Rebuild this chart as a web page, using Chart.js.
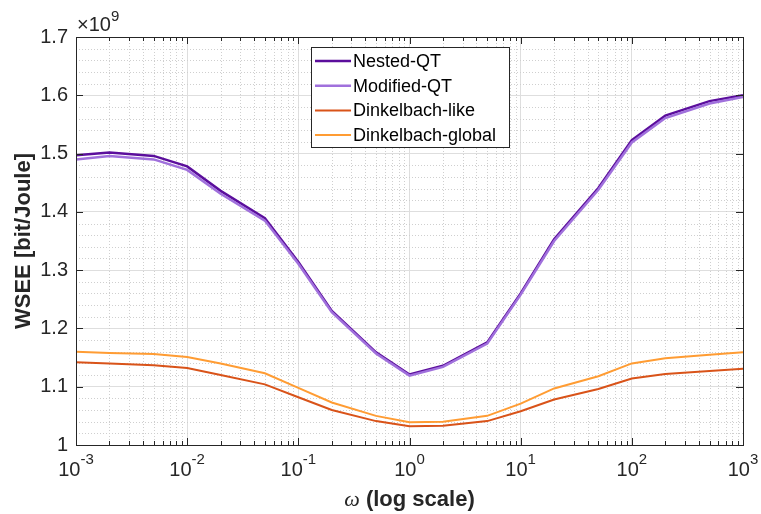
<!DOCTYPE html>
<html lang="en">
<head>
  <meta charset="UTF-8">
  <title>WSEE vs omega</title>
  <script src="https://cdn.jsdelivr.net/npm/chart.js"></script>
  <style>
    html, body { margin: 0; padding: 0; background: #fff; }
    #wrap { width: 761px; height: 514px; }
  </style>
</head>
<body>
  <div id="wrap"><canvas id="myChart" width="761" height="514"></canvas></div>

  <script>
    // omega values (log scale) and WSEE values in units of 10^9 bit/Joule
    const omega = [0.001, 0.002, 0.005, 0.01, 0.02, 0.05, 0.1, 0.2, 0.5, 1, 2, 5, 10, 20, 50, 100, 200, 500, 1000];
    const nestedQT = [1.497, 1.502, 1.496, 1.478, 1.436, 1.389, 1.314, 1.230, 1.159, 1.121, 1.136, 1.176, 1.260, 1.353, 1.441, 1.523, 1.565, 1.590, 1.600];
    const modifiedQT = [1.490, 1.496, 1.490, 1.472, 1.431, 1.385, 1.311, 1.228, 1.157, 1.119, 1.134, 1.174, 1.258, 1.350, 1.438, 1.519, 1.561, 1.586, 1.597];
    const dinkelLike = [1.142, 1.140, 1.137, 1.132, 1.120, 1.104, 1.082, 1.060, 1.041, 1.032, 1.033, 1.041, 1.058, 1.078, 1.096, 1.114, 1.122, 1.127, 1.131];
    const dinkelGlobal = [1.160, 1.158, 1.156, 1.151, 1.140, 1.123, 1.098, 1.073, 1.050, 1.039, 1.040, 1.050, 1.071, 1.097, 1.118, 1.140, 1.149, 1.155, 1.159];
    const seriesNames = ['Nested-QT', 'Modified-QT', 'Dinkelbach-like', 'Dinkelbach-global'];
    const seriesColors = ['#5b0e9c', '#a070dc', '#d95319', '#ff9c33'];
    const seriesWidths = [2.5, 2.5, 2, 2];
    const xDecades = [0.001, 0.01, 0.1, 1, 10, 100, 1000];
    const xExponents = ['-3', '-2', '-1', '0', '1', '2', '3'];
    const yMin = 1, yMax = 1.7, yStep = 0.1, yMinorStep = 0.02;

    const allSeries = [nestedQT, modifiedQT, dinkelLike, dinkelGlobal];
    const textColor = '#262626';

    const datasets = allSeries.map((vals, i) => ({
      label: seriesNames[i],
      data: omega.map((w, j) => ({ x: w, y: vals[j] })),
      borderColor: seriesColors[i],
      backgroundColor: seriesColors[i],
      borderWidth: seriesWidths[i],
      pointRadius: 0,
      tension: 0,
      order: allSeries.length - i  // later series drawn on top
    }));

    // minor grid, inward ticks, box, tick labels, titles, legend
    const matlabAxes = {
      id: 'matlabAxes',
      beforeDatasetsDraw(chart) {
        const { ctx, chartArea: a, scales: { x, y } } = chart;
        ctx.save();
        ctx.strokeStyle = '#cfcfcf';
        ctx.lineWidth = 1;
        ctx.setLineDash([1, 2]);
        // x minor
        for (let d = 0; d < xDecades.length - 1; d++) {
          for (let m = 2; m <= 9; m++) {
            const px = Math.round(x.getPixelForValue(xDecades[d] * m)) + 0.5;
            ctx.beginPath(); ctx.moveTo(px, a.top); ctx.lineTo(px, a.bottom); ctx.stroke();
          }
        }
        // y minor
        for (let v = yMin + yMinorStep; v < yMax - 1e-9; v += yMinorStep) {
          if (Math.abs(v * 10 - Math.round(v * 10)) < 1e-6) continue;
          const py = Math.round(y.getPixelForValue(v)) + 0.5;
          ctx.beginPath(); ctx.moveTo(a.left, py); ctx.lineTo(a.right, py); ctx.stroke();
        }
        ctx.restore();
      },
      afterDatasetsDraw(chart) {
        const { ctx, chartArea: a, scales: { x, y } } = chart;
        ctx.save();
        ctx.strokeStyle = textColor;
        ctx.lineWidth = 1;
        // box
        ctx.strokeRect(Math.round(a.left) + 0.5, Math.round(a.top) + 0.5, Math.round(a.right - a.left), Math.round(a.bottom - a.top));
        ctx.beginPath();
        // x ticks (inward, bottom and top)
        for (let d = 0; d < xDecades.length; d++) {
          const px = Math.round(x.getPixelForValue(xDecades[d])) + 0.5;
          ctx.moveTo(px, a.bottom); ctx.lineTo(px, a.bottom - 7);
          ctx.moveTo(px, a.top); ctx.lineTo(px, a.top + 7);
          if (d < xDecades.length - 1) {
            for (let m = 2; m <= 9; m++) {
              const pm = Math.round(x.getPixelForValue(xDecades[d] * m)) + 0.5;
              ctx.moveTo(pm, a.bottom); ctx.lineTo(pm, a.bottom - 4);
              ctx.moveTo(pm, a.top); ctx.lineTo(pm, a.top + 4);
            }
          }
        }
        // y ticks (left and right)
        for (let v = yMin; v <= yMax + 1e-9; v += yStep) {
          const py = Math.round(y.getPixelForValue(v)) + 0.5;
          ctx.moveTo(a.left, py); ctx.lineTo(a.left + 7, py);
          ctx.moveTo(a.right, py); ctx.lineTo(a.right - 7, py);
        }
        ctx.stroke();

        // x tick labels 10^n
        ctx.fillStyle = textColor;
        ctx.textBaseline = 'alphabetic';
        ctx.textAlign = 'left';
        const baseFont = '20px "Liberation Sans", Arial, sans-serif';
        const expFont = '15px "Liberation Sans", Arial, sans-serif';
        xDecades.forEach((v, i) => {
          ctx.font = baseFont;
          const wb = ctx.measureText('10').width;
          ctx.font = expFont;
          const we = ctx.measureText(xExponents[i]).width;
          const px = x.getPixelForValue(v);
          const sx = px - (wb + we) / 2;
          ctx.font = baseFont;
          ctx.fillText('10', sx, a.bottom + 31);
          ctx.font = expFont;
          ctx.fillText(xExponents[i], sx + wb, a.bottom + 19);
        });

        // x10^9 multiplier
        ctx.font = baseFont;
        ctx.fillText('\u00d710', a.left + 1, a.top - 6);
        const wm = ctx.measureText('\u00d710').width;
        ctx.font = expFont;
        ctx.fillText('9', a.left + 1 + wm, a.top - 16);

        // x title
        ctx.textAlign = 'left';
        ctx.font = 'italic 22px "Liberation Serif", serif';
        const t1 = '\u03c9';
        const w1 = ctx.measureText(t1).width;
        ctx.font = 'bold 22px "Liberation Sans", Arial, sans-serif';
        const t2 = ' (log scale)';
        const w2 = ctx.measureText(t2).width;
        const cx = (a.left + a.right) / 2;
        const sx = cx - (w1 + w2) / 2;
        ctx.font = 'italic 22px "Liberation Serif", serif';
        ctx.fillText(t1, sx, 506);
        ctx.font = 'bold 22px "Liberation Sans", Arial, sans-serif';
        ctx.fillText(t2, sx + w1, 506);

        // y title
        ctx.save();
        ctx.translate(30, (a.top + a.bottom) / 2);
        ctx.rotate(-Math.PI / 2);
        ctx.textAlign = 'center';
        ctx.font = 'bold 22px "Liberation Sans", Arial, sans-serif';
        ctx.fillText('WSEE [bit/Joule]', 0, 0);
        ctx.restore();

        // legend
        const lx = 311, ly = 47, lw = 198, lh = 100;
        ctx.fillStyle = '#fff';
        ctx.fillRect(lx, ly, lw, lh);
        ctx.strokeStyle = textColor;
        ctx.strokeRect(lx + 0.5, ly + 0.5, lw, lh);
        ctx.font = '18px "Liberation Sans", Arial, sans-serif';
        ctx.textBaseline = 'middle';
        chart.data.datasets.forEach((ds, i) => {
          const ry = ly + 14 + i * 24.7;
          ctx.strokeStyle = ds.borderColor;
          ctx.lineWidth = ds.borderWidth;
          ctx.beginPath(); ctx.moveTo(lx + 4, ry); ctx.lineTo(lx + 40, ry); ctx.stroke();
          ctx.fillStyle = '#000';
          ctx.fillText(ds.label, lx + 42, ry + 1);
        });
        ctx.restore();
      }
    };

    const ctx = document.getElementById('myChart').getContext('2d');
    const myChart = new Chart(ctx, {
      type: 'line',
      data: { datasets },
      options: {
        responsive: false,
        animation: false,
        layout: { padding: { left: 0, right: 18, top: 37, bottom: 69 } },
        plugins: { legend: { display: false }, tooltip: { enabled: false } },
        scales: {
          x: {
            type: 'logarithmic',
            min: 0.001,
            max: 1000,
            afterBuildTicks: (scale) => { scale.ticks = xDecades.map(v => ({ value: v })); },
            afterFit: (scale) => { scale.height = 0; },
            ticks: { display: false },
            grid: { color: '#dedede', lineWidth: 1, drawTicks: false },
            border: { display: false }
          },
          y: {
            min: yMin,
            max: yMax,
            afterFit: (scale) => { scale.width = 76; },
            ticks: {
              stepSize: yStep,
              padding: 8,
              color: textColor,
              font: { size: 20, family: '"Liberation Sans", Arial, sans-serif' },
              callback: (v) => (Math.abs(v - 1) < 1e-9 ? '1' : Number(v).toFixed(1))
            },
            grid: { color: '#dedede', lineWidth: 1, drawTicks: false },
            border: { display: false }
          }
        }
      },
      plugins: [matlabAxes]
    });
  </script>
</body>
</html>
